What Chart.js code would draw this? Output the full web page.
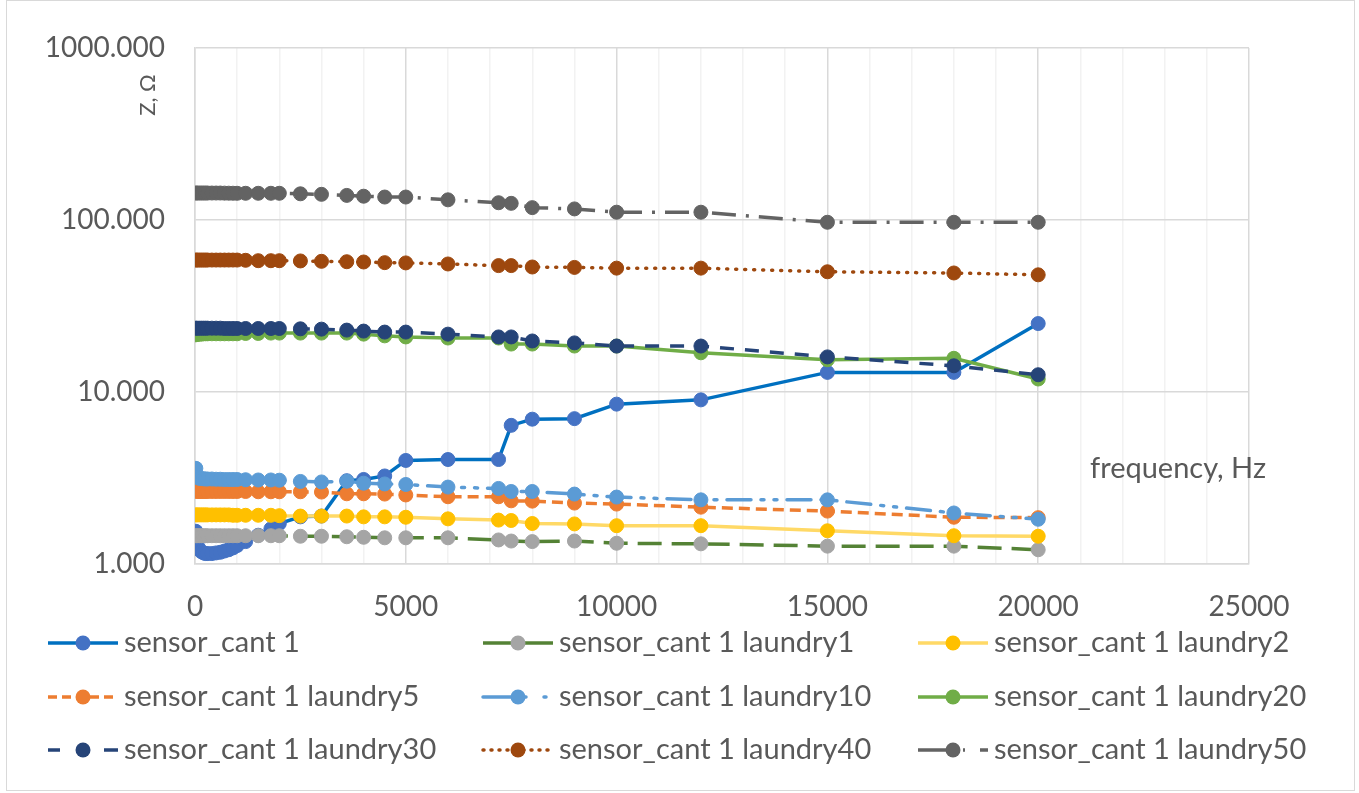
<!DOCTYPE html>
<html>
<head>
<meta charset="utf-8">
<script src="https://cdn.jsdelivr.net/npm/chart.js@4.4.0/dist/chart.umd.min.js"></script>
<style>
  html, body { margin: 0; padding: 0; background: #ffffff; }
  #wrap { width: 1359px; height: 793px; position: relative; }
</style>
</head>
<body>
<div id="wrap"><canvas id="c" width="1359" height="793"></canvas></div>
<script>
// Measurement frequencies, Hz
const frequencies = [20, 50, 100, 150, 200, 250, 300, 400, 500, 600, 700, 800, 900, 1000,
  1200, 1500, 1800, 2000, 2500, 3000, 3600, 4000, 4500, 5000, 6000, 7200, 7500, 8000,
  9000, 10000, 12000, 15000, 18000, 20000];

// Impedance |Z|, ohm, one array per sensor state
const sensorCant1 = [1.55, 1.30, 1.22, 1.18, 1.16, 1.15, 1.15, 1.15, 1.16, 1.17, 1.19, 1.21, 1.24, 1.28,
  1.35, 1.47, 1.60, 1.72, 1.88, 1.90, 3.05, 3.10, 3.25, 4.00, 4.05, 4.05, 6.40, 6.95,
  7.00, 8.50, 9.00, 13.0, 13.0, 25.0];
const laundry1 = [1.46, 1.46, 1.46, 1.46, 1.46, 1.46, 1.46, 1.46, 1.46, 1.46, 1.46, 1.46, 1.46, 1.46,
  1.46, 1.46, 1.46, 1.46, 1.45, 1.45, 1.44, 1.43, 1.42, 1.42, 1.42, 1.38, 1.36, 1.35,
  1.36, 1.32, 1.31, 1.27, 1.27, 1.21];
const laundry2 = [1.93, 1.93, 1.93, 1.93, 1.93, 1.93, 1.93, 1.93, 1.93, 1.93, 1.93, 1.93, 1.92, 1.92,
  1.92, 1.92, 1.92, 1.91, 1.90, 1.90, 1.90, 1.88, 1.88, 1.87, 1.83, 1.80, 1.79, 1.72,
  1.71, 1.67, 1.67, 1.56, 1.46, 1.45];
const laundry5 = [2.66, 2.64, 2.64, 2.64, 2.64, 2.64, 2.64, 2.64, 2.64, 2.64, 2.64, 2.64, 2.64, 2.64,
  2.64, 2.63, 2.63, 2.63, 2.63, 2.62, 2.56, 2.56, 2.55, 2.52, 2.46, 2.46, 2.33, 2.32,
  2.26, 2.23, 2.14, 2.03, 1.87, 1.86];
const laundry10 = [3.60, 3.20, 3.15, 3.14, 3.13, 3.12, 3.12, 3.12, 3.11, 3.11, 3.10, 3.10, 3.10, 3.10,
  3.09, 3.08, 3.08, 3.07, 3.02, 3.00, 3.03, 2.95, 2.92, 2.90, 2.80, 2.75, 2.64, 2.64,
  2.55, 2.45, 2.36, 2.36, 1.98, 1.82];
const laundry20 = [21.5, 21.6, 21.7, 21.7, 21.8, 21.8, 21.8, 21.8, 21.8, 21.8, 21.8, 21.8, 21.8, 21.8,
  21.9, 21.9, 22.0, 22.0, 22.0, 22.0, 22.0, 21.7, 21.2, 20.9, 20.6, 20.6, 19.0, 19.0,
  18.5, 18.5, 16.9, 15.4, 15.7, 11.9];
const laundry30 = [23.5, 23.5, 23.5, 23.5, 23.5, 23.5, 23.5, 23.5, 23.5, 23.5, 23.4, 23.4, 23.4, 23.4,
  23.4, 23.4, 23.4, 23.4, 23.3, 23.2, 22.9, 22.6, 22.3, 22.3, 21.7, 20.9, 20.9, 19.8,
  19.3, 18.5, 18.5, 16.0, 14.2, 12.6];
const laundry40 = [58.5, 58.5, 58.5, 58.5, 58.5, 58.5, 58.5, 58.5, 58.5, 58.5, 58.5, 58.5, 58.5, 58.5,
  58.3, 58.0, 58.0, 58.0, 57.8, 57.5, 57.2, 57.0, 56.5, 56.3, 55.5, 54.3, 54.3, 53.3,
  53.0, 52.5, 52.5, 50.0, 49.2, 48.0];
const laundry50 = [143.5, 143.5, 143.5, 143.5, 143.5, 143.5, 143.5, 143.5, 143.5, 143.5, 143.3, 143.2, 143.1, 143.0,
  143.0, 143.0, 143.0, 143.0, 142.0, 141.0, 139.0, 137.5, 136.0, 136.0, 131.0, 126.0, 125.0, 118.0,
  116.0, 111.0, 111.0, 97.0, 97.0, 97.0];

const seriesNames = ['sensor_cant 1', 'sensor_cant 1 laundry1', 'sensor_cant 1 laundry2',
  'sensor_cant 1 laundry5', 'sensor_cant 1 laundry10', 'sensor_cant 1 laundry20',
  'sensor_cant 1 laundry30', 'sensor_cant 1 laundry40', 'sensor_cant 1 laundry50'];
const seriesValues = [sensorCant1, laundry1, laundry2, laundry5, laundry10, laundry20,
  laundry30, laundry40, laundry50];

// Tick values
const yTickValues = [1, 10, 100, 1000];
const xMin = 0, xMax = 25000, xMinorStep = 1000, xMajorStep = 5000;

// Line / marker styling per series
const lineColors   = ['#0070C0', '#548235', '#FFD966', '#ED7D31', '#5B9BD5', '#70AD47', '#264478', '#9E480E', '#636363'];
const markerColors = ['#4472C4', '#A5A5A5', '#FFC000', '#ED7D31', '#5B9BD5', '#70AD47', '#264478', '#9E480E', '#636363'];
const dashes = [[], [24, 10], [], [11, 6], [24, 10, 3, 10, 3, 10], [], [14, 11], [1, 8], [24, 10, 3, 10]];
const legendDashes = [[], [], [], [9, 5], [34, 7, 2, 18, 2, 20], [], [12, 44, 14], [1, 7], [37, 8, 2, 15, 8, 20]];
const caps = ['butt', 'butt', 'butt', 'butt', 'round', 'butt', 'butt', 'round', 'butt'];

const FONT = 'Lato, "Open Sans", sans-serif';
const TEXT = '#595959';

const datasets = seriesNames.map((name, i) => ({
  label: name,
  data: frequencies.map((f, k) => ({ x: f, y: seriesValues[i][k] })),
  borderColor: lineColors[i],
  backgroundColor: markerColors[i],
  pointBackgroundColor: markerColors[i],
  pointBorderColor: markerColors[i],
  pointBorderWidth: 1,
  pointRadius: 7,
  borderWidth: 3.5,
  borderDash: dashes[i],
  borderCapStyle: caps[i],
  tension: 0,
  fill: false,
  order: seriesNames.length - i
}));

// Legend grid, axis captions and chart frame
const decorPlugin = {
  id: 'decor',
  afterDraw(chart) {
    const ctx = chart.ctx;
    ctx.save();
    // outer frame
    ctx.strokeStyle = '#D9D9D9';
    ctx.lineWidth = 1;
    ctx.strokeRect(6.5, 0.5, 1348, 790);

    // axis captions
    ctx.fillStyle = TEXT;
    ctx.font = '29px ' + FONT;
    ctx.textAlign = 'left';
    ctx.textBaseline = 'middle';
    ctx.fillText('frequency, Hz', 1090, 469);

    ctx.save();
    ctx.translate(148, 95);
    ctx.rotate(-Math.PI / 2);
    ctx.font = '22px ' + FONT;
    ctx.textAlign = 'center';
    ctx.fillText('Z, Ω', 0, 0);
    ctx.restore();

    // legend, three columns
    const colX = [48, 483, 918];
    const rowY = [643, 697, 750];
    chart.data.datasets.forEach((ds, i) => {
      const x0 = colX[i % 3];
      const y = rowY[Math.floor(i / 3)];
      ctx.save();
      ctx.strokeStyle = ds.borderColor;
      ctx.lineWidth = 3.5;
      ctx.lineCap = ds.borderCapStyle;
      ctx.setLineDash(legendDashes[i]);
      ctx.beginPath();
      ctx.moveTo(x0, y);
      ctx.lineTo(x0 + 70, y);
      ctx.stroke();
      ctx.setLineDash([]);
      ctx.fillStyle = ds.pointBackgroundColor;
      ctx.beginPath();
      ctx.arc(x0 + 35, y, 7.5, 0, Math.PI * 2);
      ctx.fill();
      ctx.restore();
      ctx.fillStyle = TEXT;
      ctx.font = '29px ' + FONT;
      ctx.textAlign = 'left';
      ctx.textBaseline = 'middle';
      ctx.fillText(ds.label, x0 + 76, y);
    });
    ctx.restore();
  }
};

new Chart(document.getElementById('c'), {
  type: 'line',
  data: { datasets },
  plugins: [decorPlugin],
  options: {
    responsive: false,
    animation: false,
    devicePixelRatio: 1,
    layout: { padding: { left: 0, top: 48, right: 110, bottom: 0 } },
    plugins: { legend: { display: false }, tooltip: { enabled: false } },
    scales: {
      x: {
        type: 'linear',
        min: xMin,
        max: xMax,
        afterFit: s => { s.height = 229; },
        ticks: {
          stepSize: xMinorStep,
          autoSkip: false,
          maxRotation: 0,
          padding: 26,
          color: TEXT,
          font: { family: FONT, size: 28 },
          callback: v => (v % xMajorStep === 0 ? String(v) : '')
        },
        grid: {
          drawTicks: false,
          color: c => (c.tick && c.tick.value % xMajorStep === 0 ? '#D9D9D9' : '#F2F2F2'),
          lineWidth: 1.5
        },
        border: { color: '#D9D9D9', width: 1.5 }
      },
      y: {
        type: 'logarithmic',
        min: yTickValues[0],
        max: yTickValues[yTickValues.length - 1],
        afterFit: s => { s.width = 195; },
        afterBuildTicks: s => { s.ticks = yTickValues.map(v => ({ value: v })); },
        ticks: {
          padding: 30,
          color: TEXT,
          font: { family: FONT, size: 28 },
          callback: v => Number(v).toFixed(3)
        },
        grid: { drawTicks: false, color: '#D9D9D9', lineWidth: 1.5 },
        border: { color: '#D9D9D9', width: 1.5 }
      }
    }
  }
});
</script>
</body>
</html>
